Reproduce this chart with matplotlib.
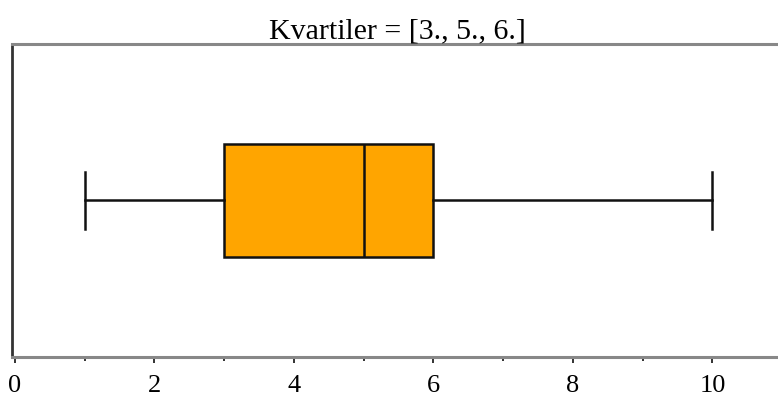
import matplotlib
matplotlib.use('Agg')
import matplotlib.pyplot as plt
from matplotlib.ticker import MultipleLocator
import numpy as np

# data
data = [1, 3, 5, 6, 10]
quartiles = np.percentile(data, [25, 50, 75])
x_ticks = [0, 2, 4, 6, 8, 10]

plt.rcParams['font.family'] = ['Liberation Serif', 'DejaVu Serif']

fig = plt.figure(figsize=(7.78, 3.97), dpi=100)
ax = fig.add_axes([0.0154, 0.1008, 0.99, 0.7884])

ax.boxplot(data, vert=False, widths=0.5, whis=1.5, patch_artist=True,
           showfliers=False,
           boxprops=dict(facecolor='#FFA500', edgecolor='#111111', linewidth=1.8),
           medianprops=dict(color='#111111', linewidth=1.8),
           whiskerprops=dict(color='#111111', linewidth=1.8),
           capprops=dict(color='#111111', linewidth=1.8))

ax.set_ylim(1 - 0.687, 1 + 0.687)
ax.set_xlim(-0.04, 11.0)
ax.set_yticks([])
ax.set_xticks(x_ticks)
ax.set_xticklabels([str(t) for t in x_ticks])
ax.xaxis.set_minor_locator(MultipleLocator(1))
ax.tick_params(axis='x', which='major', length=4, width=1.3, pad=9,
               labelsize=19, color='#222222')
ax.tick_params(axis='x', which='minor', length=3, width=1.3, color='#222222')

ax.spines['left'].set_color('#333333')
ax.spines['left'].set_linewidth(2)
for s in ['top', 'bottom', 'right']:
    ax.spines[s].set_color('#888888')
    ax.spines[s].set_linewidth(2.2)

q = ', '.join(f'{v:g}.' for v in quartiles)
ax.set_title(f'Kvartiler = [{q}]', fontsize=21.5, pad=2)

plt.savefig('out.png', dpi=100)
